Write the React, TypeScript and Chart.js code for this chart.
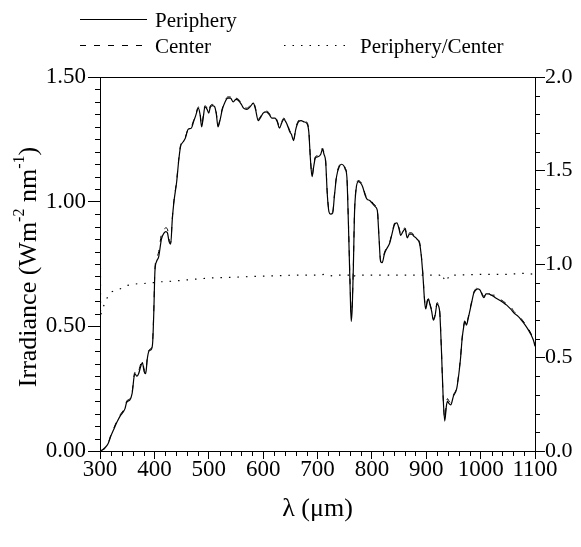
import { useEffect, useRef } from 'react';
import { Chart, registerables } from 'chart.js';

Chart.register(...registerables);

// Wavelength samples (nm)
const WAVELENGTH = [
  300, 305, 310, 315, 320, 325, 331, 337, 342, 346,
  349, 355, 359, 364, 368, 371, 375, 378, 381, 384,
  387, 390, 395, 397, 399, 401, 404, 408, 413, 418,
  421, 424, 427, 430, 433, 436, 441, 445, 448, 453,
  457, 462, 468, 472, 476, 481, 484, 487, 490, 493,
  497, 500, 503, 507, 511, 514, 517, 520, 525, 530,
  535, 540, 545, 550, 555, 560, 564, 570, 576, 582,
  586, 591, 596, 600, 606, 611, 616, 622, 626, 630,
  634, 638, 644, 649, 652, 656, 660, 665, 670, 675,
  680, 684, 687, 690, 693, 696, 701, 706, 709, 712,
  715, 718, 721, 724, 728, 731, 735, 740, 744, 748,
  751, 754, 757, 760, 762, 764, 766, 768, 771, 775,
  779, 783, 787, 791, 796, 800, 806, 810, 813, 816,
  819, 823, 827, 833, 838, 842, 846, 850, 853, 857,
  861, 865, 869, 873, 878, 883, 888, 891, 894, 897,
  899, 902, 904, 907, 910, 913, 916, 920, 922, 925,
  928, 931, 934, 937, 939, 942, 945, 950, 956, 960,
  963, 966, 969, 971, 974, 977, 980, 984, 987, 991,
  995, 999, 1003, 1006, 1010, 1014, 1020, 1027, 1035, 1042,
  1048, 1055, 1063, 1069, 1075, 1082, 1088, 1093, 1097, 1100,
];

// Irradiance at the periphery (W m^-2 nm^-1)
const PERIPHERY = [
  0.00, 0.005, 0.015, 0.03, 0.06, 0.085, 0.115, 0.14, 0.155, 0.17,
  0.195, 0.205, 0.23, 0.31, 0.30, 0.31, 0.34, 0.355, 0.32, 0.31,
  0.37, 0.40, 0.41, 0.44, 0.56, 0.72, 0.76, 0.78, 0.85, 0.875,
  0.88, 0.875, 0.84, 0.83, 0.93, 1.00, 1.08, 1.17, 1.22, 1.24,
  1.255, 1.29, 1.295, 1.32, 1.345, 1.375, 1.35, 1.30, 1.34, 1.38,
  1.37, 1.355, 1.38, 1.385, 1.38, 1.35, 1.30, 1.32, 1.37, 1.40,
  1.415, 1.415, 1.40, 1.41, 1.405, 1.39, 1.375, 1.37, 1.38, 1.395,
  1.37, 1.325, 1.34, 1.355, 1.36, 1.35, 1.335, 1.335, 1.32, 1.295,
  1.315, 1.33, 1.31, 1.28, 1.27, 1.245, 1.29, 1.32, 1.325, 1.32,
  1.315, 1.28, 1.17, 1.10, 1.14, 1.175, 1.18, 1.19, 1.21, 1.19,
  1.16, 1.03, 0.96, 0.95, 0.955, 1.02, 1.10, 1.14, 1.15, 1.145,
  1.13, 1.10, 0.90, 0.65, 0.52, 0.58, 0.74, 0.95, 1.05, 1.08,
  1.075, 1.06, 1.03, 1.01, 1.005, 0.995, 0.98, 0.965, 0.86, 0.76,
  0.755, 0.79, 0.81, 0.835, 0.88, 0.91, 0.915, 0.89, 0.865, 0.88,
  0.89, 0.855, 0.87, 0.87, 0.86, 0.85, 0.83, 0.78, 0.70, 0.60,
  0.57, 0.60, 0.61, 0.585, 0.56, 0.525, 0.54, 0.59, 0.585, 0.55,
  0.40, 0.22, 0.12, 0.18, 0.20, 0.19, 0.185, 0.22, 0.25, 0.31,
  0.37, 0.45, 0.50, 0.52, 0.505, 0.53, 0.56, 0.60, 0.63, 0.645,
  0.65, 0.645, 0.625, 0.615, 0.63, 0.63, 0.625, 0.615, 0.605, 0.595,
  0.585, 0.57, 0.55, 0.54, 0.525, 0.505, 0.485, 0.465, 0.445, 0.42,
];

// Irradiance at the center (W m^-2 nm^-1)
const CENTER = [
  0.00, 0.005, 0.012, 0.03, 0.065, 0.09, 0.12, 0.145, 0.16, 0.175,
  0.20, 0.21, 0.235, 0.315, 0.305, 0.32, 0.35, 0.36, 0.33, 0.315,
  0.375, 0.405, 0.415, 0.45, 0.57, 0.73, 0.77, 0.80, 0.87, 0.89,
  0.895, 0.89, 0.85, 0.835, 0.935, 1.005, 1.085, 1.175, 1.225, 1.245,
  1.26, 1.29, 1.30, 1.325, 1.35, 1.38, 1.355, 1.305, 1.345, 1.385,
  1.375, 1.36, 1.385, 1.39, 1.385, 1.355, 1.305, 1.325, 1.375, 1.405,
  1.42, 1.42, 1.405, 1.415, 1.41, 1.395, 1.38, 1.375, 1.385, 1.40,
  1.375, 1.33, 1.345, 1.36, 1.365, 1.355, 1.34, 1.34, 1.325, 1.30,
  1.32, 1.335, 1.315, 1.285, 1.275, 1.25, 1.295, 1.325, 1.33, 1.325,
  1.32, 1.285, 1.175, 1.105, 1.145, 1.18, 1.185, 1.195, 1.215, 1.195,
  1.165, 1.035, 0.965, 0.955, 0.96, 1.025, 1.105, 1.145, 1.155, 1.15,
  1.135, 1.105, 0.91, 0.67, 0.55, 0.60, 0.75, 0.955, 1.055, 1.085,
  1.08, 1.065, 1.035, 1.015, 1.01, 1.0, 0.985, 0.97, 0.865, 0.765,
  0.76, 0.795, 0.815, 0.84, 0.885, 0.915, 0.92, 0.895, 0.87, 0.885,
  0.895, 0.86, 0.875, 0.875, 0.865, 0.855, 0.835, 0.785, 0.705, 0.605,
  0.575, 0.605, 0.615, 0.59, 0.565, 0.53, 0.545, 0.595, 0.59, 0.555,
  0.40, 0.22, 0.13, 0.19, 0.21, 0.20, 0.195, 0.225, 0.255, 0.315,
  0.375, 0.455, 0.505, 0.525, 0.51, 0.535, 0.565, 0.605, 0.635, 0.65,
  0.655, 0.65, 0.63, 0.62, 0.64, 0.635, 0.625, 0.625, 0.61, 0.60,
  0.59, 0.58, 0.555, 0.55, 0.53, 0.51, 0.49, 0.47, 0.45, 0.43,
];

// Periphery / Center ratio (right axis)
const RATIO_WAVELENGTH = [
  300, 301, 303, 306, 310, 315, 320, 330, 340, 350,
  360, 370, 380, 390, 400, 410, 420, 440, 460, 480,
  500, 550, 600, 650, 700, 714, 720, 729, 740, 758,
  761, 764, 770, 800, 850, 900, 925, 929, 932, 936,
  939, 943, 950, 1000, 1050, 1080, 1100,
];
const RATIO = [
  2.3, 0.72, 0.75, 0.77, 0.80, 0.83, 0.85, 0.86, 0.87, 0.885,
  0.89, 0.895, 0.895, 0.90, 0.90, 0.905, 0.905, 0.91, 0.915, 0.92,
  0.925, 0.93, 0.935, 0.94, 0.94, 0.945, 0.94, 0.935, 0.94, 0.94,
  0.945, 0.93, 0.94, 0.94, 0.94, 0.94, 0.94, 0.95, 0.925, 0.905,
  0.92, 0.94, 0.94, 0.945, 0.945, 0.95, 0.945,
];

// Labelled (major) ticks
const X_LABELS = [300, 400, 500, 600, 700, 800, 900, 1000, 1100];
const LEFT_LABELS = [0, 0.5, 1.0, 1.5];
const RIGHT_LABELS = [0, 0.5, 1.0, 1.5, 2.0];

const FONT = '"Liberation Serif", "Times New Roman", serif';
const TICK_FS = 23;
const RIGHT_FS = 22;
const TITLE_FS = 26;
const LEGEND_FS = 21;

const W = 565;
const H = 531;

const has = (list: number[], v: number) => list.some((t) => Math.abs(t - v) < 1e-6);

export default function App() {
  const ref = useRef<HTMLCanvasElement>(null);

  useEffect(() => {
    const canvas = ref.current!;

    const decor = {
      id: 'decor',
      afterDraw(chart: any) {
        const ctx = chart.ctx as CanvasRenderingContext2D;
        const { left, right, top, bottom } = chart.chartArea;
        ctx.save();
        ctx.strokeStyle = '#000';
        ctx.fillStyle = '#000';
        ctx.lineWidth = 1;
        ctx.setLineDash([]);

        // top frame line
        ctx.beginPath();
        ctx.moveTo(left, Math.round(top) + 0.5);
        ctx.lineTo(right, Math.round(top) + 0.5);
        ctx.stroke();

        // minor ticks (short, outside)
        const xs = chart.scales.x;
        const yl = chart.scales.y;
        const yr = chart.scales.y2;
        ctx.beginPath();
        for (const t of xs.ticks) {
          if (has(X_LABELS, t.value)) continue;
          const p = Math.round(xs.getPixelForValue(t.value)) + 0.5;
          ctx.moveTo(p, bottom);
          ctx.lineTo(p, bottom + 5);
        }
        for (const t of yl.ticks) {
          if (has(LEFT_LABELS, t.value)) continue;
          const p = Math.round(yl.getPixelForValue(t.value)) + 0.5;
          ctx.moveTo(left - 5, p);
          ctx.lineTo(left, p);
        }
        for (const t of yr.ticks) {
          if (has(RIGHT_LABELS, t.value)) continue;
          const p = Math.round(yr.getPixelForValue(t.value)) + 0.5;
          ctx.moveTo(right, p);
          ctx.lineTo(right + 5, p);
        }
        ctx.stroke();

        // legend
        ctx.font = `${LEGEND_FS}px ${FONT}`;
        ctx.textBaseline = 'middle';
        ctx.textAlign = 'left';
        const items = [
          { ds: 0, x: 72, y: 11, tx: 147, ty: 13 },
          { ds: 1, x: 72, y: 37, tx: 147, ty: 39 },
          { ds: 2, x: 276, y: 37, tx: 352, ty: 39 },
        ];
        for (const it of items) {
          const ds = chart.data.datasets[it.ds];
          ctx.setLineDash(ds.borderDash || []);
          ctx.lineWidth = 1.2;
          ctx.beginPath();
          ctx.moveTo(it.x, it.y + 0.5);
          ctx.lineTo(it.x + 67, it.y + 0.5);
          ctx.stroke();
          ctx.setLineDash([]);
          ctx.fillText(ds.label, it.tx, it.ty);
        }

        // y axis title with superscripts
        const parts: [string, boolean][] = [
          ['Irradiance (Wm', false],
          ['-2', true],
          [' nm', false],
          ['-1', true],
          [')', false],
        ];
        const supFont = `16px ${FONT}`;
        const mainFont = `${TITLE_FS}px ${FONT}`;
        let total = 0;
        for (const [t, sup] of parts) {
          ctx.font = sup ? supFont : mainFont;
          total += ctx.measureText(t).width;
        }
        ctx.translate(21, (top + bottom) / 2 + 3);
        ctx.rotate(-Math.PI / 2);
        let x = -total / 2;
        for (const [t, sup] of parts) {
          ctx.font = sup ? supFont : mainFont;
          ctx.fillText(t, x, sup ? -9 : 0);
          x += ctx.measureText(t).width;
        }
        ctx.restore();
      },
    };

    const tickFont = { family: FONT, size: TICK_FS };
    const majorColor = (list: number[]) => (c: any) =>
      c.tick && has(list, c.tick.value) ? '#000' : 'rgba(0,0,0,0)';

    const chart = new Chart(canvas, {
      type: 'line',
      data: {
        datasets: [
          {
            label: 'Periphery',
            data: WAVELENGTH.map((x, i) => ({ x, y: PERIPHERY[i] })),
            borderColor: '#000',
            borderWidth: 1.2,
            borderDash: [],
            pointRadius: 0,
            cubicInterpolationMode: 'monotone',
            yAxisID: 'y',
          },
          {
            label: 'Center',
            data: WAVELENGTH.map((x, i) => ({ x, y: CENTER[i] })),
            borderColor: '#000',
            borderWidth: 1,
            borderDash: [6, 8],
            pointRadius: 0,
            cubicInterpolationMode: 'monotone',
            yAxisID: 'y',
          },
          {
            label: 'Periphery/Center',
            data: RATIO_WAVELENGTH.map((x, i) => ({ x, y: RATIO[i] })),
            borderColor: '#000',
            borderWidth: 1.2,
            borderDash: [1.5, 7],
            pointRadius: 0,
            yAxisID: 'y2',
          },
        ],
      },
      options: {
        responsive: false,
        animation: false,
        events: [],
        layout: { padding: { top: 69, left: 0, right: 0, bottom: 0 } },
        plugins: {
          legend: { display: false },
          tooltip: { enabled: false },
        },
        scales: {
          x: {
            type: 'linear',
            position: 'bottom',
            min: 300,
            max: 1100,
            ticks: {
              stepSize: 20,
              autoSkip: false,
              maxRotation: 0,
              padding: -3,
              color: '#000',
              font: tickFont,
              callback: (v: any) => (has(X_LABELS, Number(v)) ? String(v) : ''),
            },
            grid: {
              drawOnChartArea: false,
              drawTicks: true,
              tickLength: 8,
              tickColor: majorColor(X_LABELS),
              tickWidth: 1,
            },
            border: { display: true, color: '#000', width: 1 },
            title: {
              display: true,
              text: 'λ (μm)',
              color: '#000',
              font: { family: FONT, size: TITLE_FS },
              padding: { top: 0, bottom: 14 },
            },
            afterFit: (s: any) => {
              s.height = 88;
            },
          },
          y: {
            type: 'linear',
            position: 'left',
            min: 0,
            max: 1.5,
            ticks: {
              stepSize: 0.05,
              autoSkip: false,
              padding: 2,
              color: '#000',
              font: tickFont,
              callback: (v: any) => (has(LEFT_LABELS, Number(v)) ? Number(v).toFixed(2) : ''),
            },
            grid: {
              drawOnChartArea: false,
              drawTicks: true,
              tickLength: 12,
              tickColor: majorColor(LEFT_LABELS),
              tickWidth: 1,
            },
            border: { display: true, color: '#000', width: 1 },
            afterFit: (s: any) => {
              s.width = 92;
            },
          },
          y2: {
            type: 'linear',
            position: 'right',
            min: 0,
            max: 2,
            ticks: {
              stepSize: 0.1,
              autoSkip: false,
              padding: 0,
              color: '#000',
              font: { family: FONT, size: RIGHT_FS },
              callback: (v: any) => (has(RIGHT_LABELS, Number(v)) ? Number(v).toFixed(1) : ''),
            },
            grid: {
              drawOnChartArea: false,
              drawTicks: true,
              tickLength: 10,
              tickColor: majorColor(RIGHT_LABELS),
              tickWidth: 1,
            },
            border: { display: true, color: '#000', width: 1 },
            afterFit: (s: any) => {
              s.width = W - 527;
            },
          },
        },
      } as any,
      plugins: [decor],
    });

    return () => chart.destroy();
  }, []);

  return (
    <div style={{ width: W, height: H }}>
      <canvas ref={ref} width={W} height={H} style={{ display: 'block', width: W, height: H }} />
    </div>
  );
}
